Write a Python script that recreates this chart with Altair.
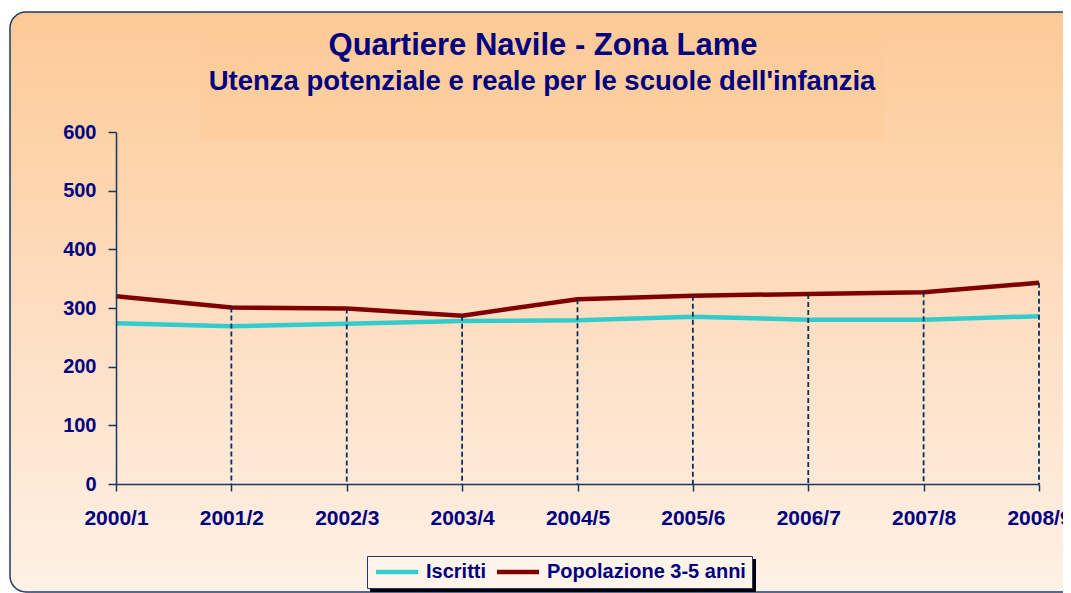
import altair as alt
import pandas as pd

anni = ["2000/1", "2001/2", "2002/3", "2003/4", "2004/5", "2005/6", "2006/7", "2007/8", "2008/9"]
iscritti = [274, 269, 273, 278, 279, 285, 280, 280, 286]
popolazione = [320, 301, 299, 287, 315, 321, 324, 327, 343]
serie_nomi = ["Iscritti", "Popolazione 3-5 anni"]
serie_colori = ["#33CCCC", "#800000"]
titolo = "Quartiere Navile - Zona Lame"
sottotitolo = "Utenza potenziale e reale per le scuole dell'infanzia"
y_ticks = [0, 100, 200, 300, 400, 500, 600]

NAVY = "#000080"
AXIS = "#17375E"
FONT = "Liberation Sans"

long_df = pd.DataFrame({
    "anno": anni * 2,
    "valore": iscritti + popolazione,
    "serie": [serie_nomi[0]] * len(anni) + [serie_nomi[1]] * len(anni),
})
drop_df = pd.DataFrame({
    "anno": anni,
    "top": [max(a, b) for a, b in zip(iscritti, popolazione)],
}).iloc[1:]

W, H = 923, 352
x_scale = alt.Scale(type="point", padding=0)
x_enc = alt.X("anno:N", sort=anni, scale=x_scale,
              axis=alt.Axis(title=None, labelFont=FONT, labelFontSize=21, labelFontWeight="bold",
                            labelColor=NAVY, labelPadding=16, tickSize=7, tickColor=AXIS,
                            domainColor=AXIS, domainWidth=1.5, tickWidth=1.5, labelAngle=0,
                            grid=False, zindex=1))
y_scale = alt.Scale(domain=[0, 600], nice=False)

one = pd.DataFrame({"k": [0]})

bg = alt.Chart(one).mark_rect(
    fill=alt.Gradient(gradient="linear", x1=0, x2=0, y1=0, y2=1,
                      stops=[alt.GradientStop(color="#FDCA96", offset=0),
                             alt.GradientStop(color="#FEDDC0", offset=0.5),
                             alt.GradientStop(color="#FEF1E6", offset=1)]),
    stroke="#1F3864", strokeWidth=1.5, cornerRadius=16,
).encode(x=alt.value(-106), x2=alt.value(1200), y=alt.value(-120), y2=alt.value(460))

title_box = alt.Chart(one).mark_rect(
    fill=alt.Gradient(gradient="linear", x1=0, x2=0, y1=0, y2=1,
                      stops=[alt.GradientStop(color="#FDCA97", offset=0),
                             alt.GradientStop(color="#FDCFA0", offset=1)]),
).encode(x=alt.value(85), x2=alt.value(767), y=alt.value(-119), y2=alt.value(9))

shadow = alt.Chart(one).mark_rect(fill="#000000").encode(
    x=alt.value(254), x2=alt.value(640), y=alt.value(427), y2=alt.value(460))

t1 = alt.Chart(pd.DataFrame({"t": [titolo]})).mark_text(
    font=FONT, fontSize=31, fontWeight="bold", color=NAVY, align="center", baseline="alphabetic"
).encode(text="t:N", x=alt.value(427), y=alt.value(-77))
t2 = alt.Chart(pd.DataFrame({"t": [sottotitolo]})).mark_text(
    font=FONT, fontSize=27.5, fontWeight="bold", color=NAVY, align="center", baseline="alphabetic"
).encode(text="t:N", x=alt.value(426), y=alt.value(-42))

lines = alt.Chart(long_df).mark_line(strokeWidth=4.5).encode(
    x=x_enc,
    y=alt.Y("valore:Q", scale=y_scale,
            axis=alt.Axis(title=None, values=y_ticks, labelFont=FONT, labelFontSize=20,
                          labelFontWeight="bold", labelColor=NAVY, labelPadding=12, tickSize=8,
                          tickColor=AXIS, domainColor=AXIS, domainWidth=1.5, tickWidth=1.5,
                          grid=False, zindex=1)),
    color=alt.Color("serie:N", sort=serie_nomi,
                    scale=alt.Scale(domain=serie_nomi, range=serie_colori),
                    legend=alt.Legend(title=None, orient="none", legendX=251, legendY=424,
                                      direction="horizontal", symbolType="M-1,0L5,0",
                                      symbolSize=196, symbolStrokeWidth=4.5,
                                      labelFont=FONT, labelFontSize=20, labelFontWeight="bold",
                                      labelColor=NAVY, labelOffset=33, columnPadding=1,
                                      fillColor="#FFF4EA", strokeColor="#1F3864", padding=6,
                                      labelLimit=400)),
)

drops = alt.Chart(drop_df).mark_rule(strokeDash=[5, 3], color="#0B2E5C", strokeWidth=1.8).encode(
    x=alt.X("anno:N", sort=anni, scale=x_scale),
    y=alt.Y("top:Q", scale=y_scale),
    y2=alt.datum(0),
)

chart = alt.layer(bg, title_box, shadow, t1, t2, lines, drops).properties(
    width=W, height=H,
    background="white",
    autosize=alt.AutoSizeParams(type="none"),
    padding={"left": 108, "top": 124, "right": 24, "bottom": 109},
).configure_view(stroke=None).configure_axis(zindex=1, grid=False)

chart.save("out.html", embed_options={"renderer": "svg", "actions": False})
